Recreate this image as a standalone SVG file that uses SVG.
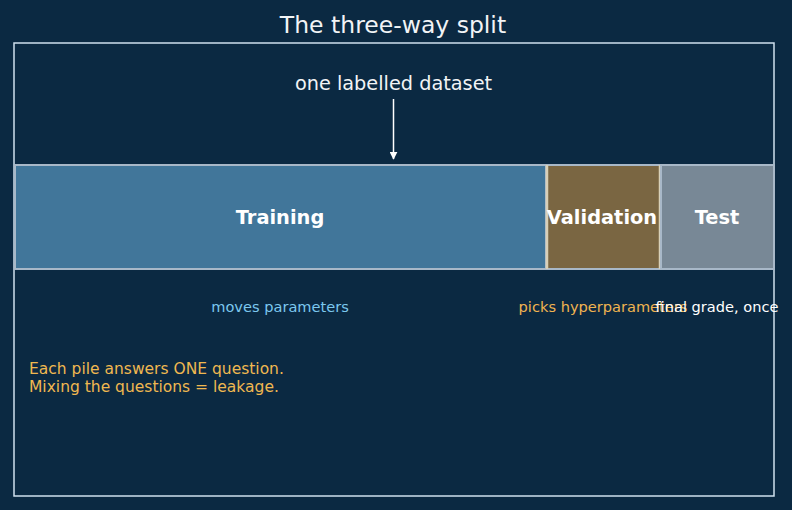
<svg xmlns="http://www.w3.org/2000/svg" width="792" height="510" viewBox="0 0 792 510">
<defs>
<style>
text{font-family:"DejaVu Sans",sans-serif}
.title{font-size:23.5px;fill:#f2f4f6;text-anchor:middle}
.lab{font-size:19.4px;font-weight:bold;fill:#ffffff;text-anchor:middle}
.sub{font-size:14.6px;text-anchor:middle}
.note{font-size:15.5px;fill:#f0b850}
.bar{stroke:#a8b8c8;stroke-width:2}
</style>
<marker id="ah" viewBox="0 0 10 10" refX="9" refY="5" markerWidth="8" markerHeight="8" orient="auto" markerUnits="userSpaceOnUse">
<path d="M0,0 L10,5 L0,10 z" fill="#ffffff"/>
</marker>
</defs>
<rect width="792" height="510" fill="#0b2942"/>
<text class="title" x="393" y="33">The three-way split</text>
<rect x="14" y="43" width="760" height="453" fill="none" stroke="#cfe0ee" stroke-width="1.5"/>
<text x="393.5" y="90" style="font-size:19.3px;fill:#f2f4f6;text-anchor:middle">one labelled dataset</text>
<g id="connectors">
<line x1="393.5" y1="99" x2="393.5" y2="159" stroke="#ffffff" stroke-width="1.5" marker-end="url(#ah)"/>
</g>
<g id="training">
<rect class="bar" x="15" y="165" width="531" height="104" fill="#41769a"/>
<text class="lab" x="280" y="224">Training</text>
<text class="sub" x="280" y="312" fill="#7cc8ef">moves parameters</text>
</g>
<g id="validation">
<rect x="547" y="165" width="113" height="104" fill="#7a6642" stroke="#a8b8c8" stroke-width="2"/>
<line x1="547" y1="165" x2="547" y2="269" stroke="#d8d0b8" stroke-width="2.5"/>
<line x1="660" y1="165" x2="660" y2="269" stroke="#d8d0b8" stroke-width="2.5"/>
<text class="lab" x="602" y="224">Validation</text>
<text class="sub" x="603" y="312" fill="#f0b450">picks hyperparameters</text>
</g>
<g id="test">
<rect class="bar" x="661" y="165" width="113" height="104" fill="#788896"/>
<text class="lab" x="717" y="224">Test</text>
<text class="sub" x="717" y="312" fill="#ffffff">final grade, once</text>
</g>
<g id="note">
<text class="note" x="29" y="374">Each pile answers ONE question.</text>
<text class="note" x="29" y="392">Mixing the questions = leakage.</text>
</g>
</svg>
